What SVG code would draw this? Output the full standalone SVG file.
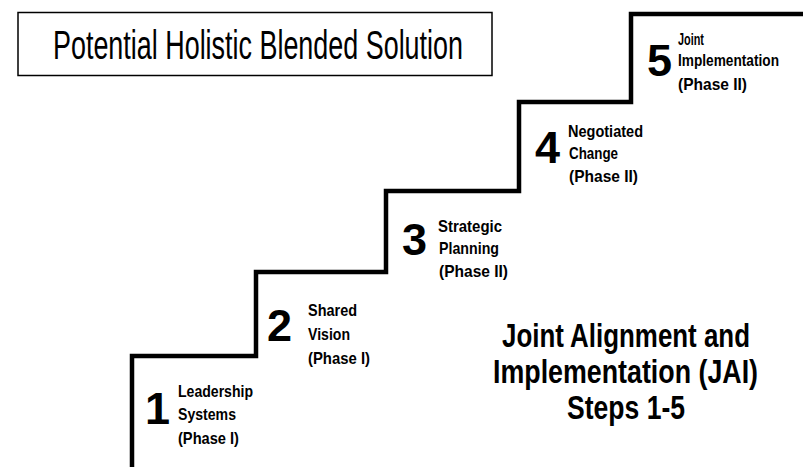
<svg xmlns="http://www.w3.org/2000/svg" width="803" height="467" viewBox="0 0 803 467">
<style>
.num{font-family:"Liberation Sans",Arial,sans-serif;font-weight:bold;font-size:45px;fill:#000}
.lbl{font-family:"Liberation Sans",Arial,sans-serif;font-weight:bold;font-size:17px;fill:#000}
.big{font-family:"Liberation Sans",Arial,sans-serif;font-weight:bold;font-size:34px;fill:#000}
.title{font-family:"Liberation Sans",Arial,sans-serif;font-size:40px;fill:#000}
</style>
<rect width="803" height="467" fill="#fff"/>
<g id="title">
<rect x="18" y="12.5" width="474" height="63" fill="none" stroke="#000" stroke-width="1.5"/>
<text class="title" x="53" y="59" textLength="410" lengthAdjust="spacingAndGlyphs">Potential Holistic Blended Solution</text>
</g>
<g id="connectors">
<path d="M132,467 V356 H256 V272 H386 V191 H519 V102 H631 V14 H803" fill="none" stroke="#000" stroke-width="4.5" stroke-linejoin="miter"/>
</g>
<g id="step1">
<text class="num" x="145" y="424">1</text>
<text class="lbl" x="178" y="397" textLength="75" lengthAdjust="spacingAndGlyphs">Leadership</text>
<text class="lbl" x="178" y="420" textLength="58" lengthAdjust="spacingAndGlyphs">Systems</text>
<text class="lbl" x="178" y="444" textLength="61" lengthAdjust="spacingAndGlyphs">(Phase I)</text>
</g>
<g id="step2">
<text class="num" x="267" y="341">2</text>
<text class="lbl" x="308" y="316" textLength="49" lengthAdjust="spacingAndGlyphs">Shared</text>
<text class="lbl" x="308" y="340" textLength="42" lengthAdjust="spacingAndGlyphs">Vision</text>
<text class="lbl" x="308" y="364" textLength="62" lengthAdjust="spacingAndGlyphs">(Phase I)</text>
</g>
<g id="step3">
<text class="num" x="402" y="255">3</text>
<text class="lbl" x="438" y="232" textLength="64" lengthAdjust="spacingAndGlyphs">Strategic</text>
<text class="lbl" x="439" y="254" textLength="60" lengthAdjust="spacingAndGlyphs">Planning</text>
<text class="lbl" x="439" y="277" textLength="69" lengthAdjust="spacingAndGlyphs">(Phase II)</text>
</g>
<g id="step4">
<text class="num" x="535" y="163">4</text>
<text class="lbl" x="568" y="137" textLength="75" lengthAdjust="spacingAndGlyphs">Negotiated</text>
<text class="lbl" x="569" y="159" textLength="49" lengthAdjust="spacingAndGlyphs">Change</text>
<text class="lbl" x="569" y="182" textLength="69" lengthAdjust="spacingAndGlyphs">(Phase II)</text>
</g>
<g id="step5">
<text class="num" x="647" y="76">5</text>
<text class="lbl" x="678" y="45" textLength="26" lengthAdjust="spacingAndGlyphs">Joint</text>
<text class="lbl" x="678" y="66" textLength="101" lengthAdjust="spacingAndGlyphs">Implementation</text>
<text class="lbl" x="678" y="90" textLength="69" lengthAdjust="spacingAndGlyphs">(Phase II)</text>
</g>
<g id="caption">
<text class="big" x="502" y="347" textLength="248" lengthAdjust="spacingAndGlyphs">Joint Alignment and</text>
<text class="big" x="493" y="383" textLength="265" lengthAdjust="spacingAndGlyphs">Implementation (JAI)</text>
<text class="big" x="567" y="419" textLength="118" lengthAdjust="spacingAndGlyphs">Steps 1-5</text>
</g>
</svg>
